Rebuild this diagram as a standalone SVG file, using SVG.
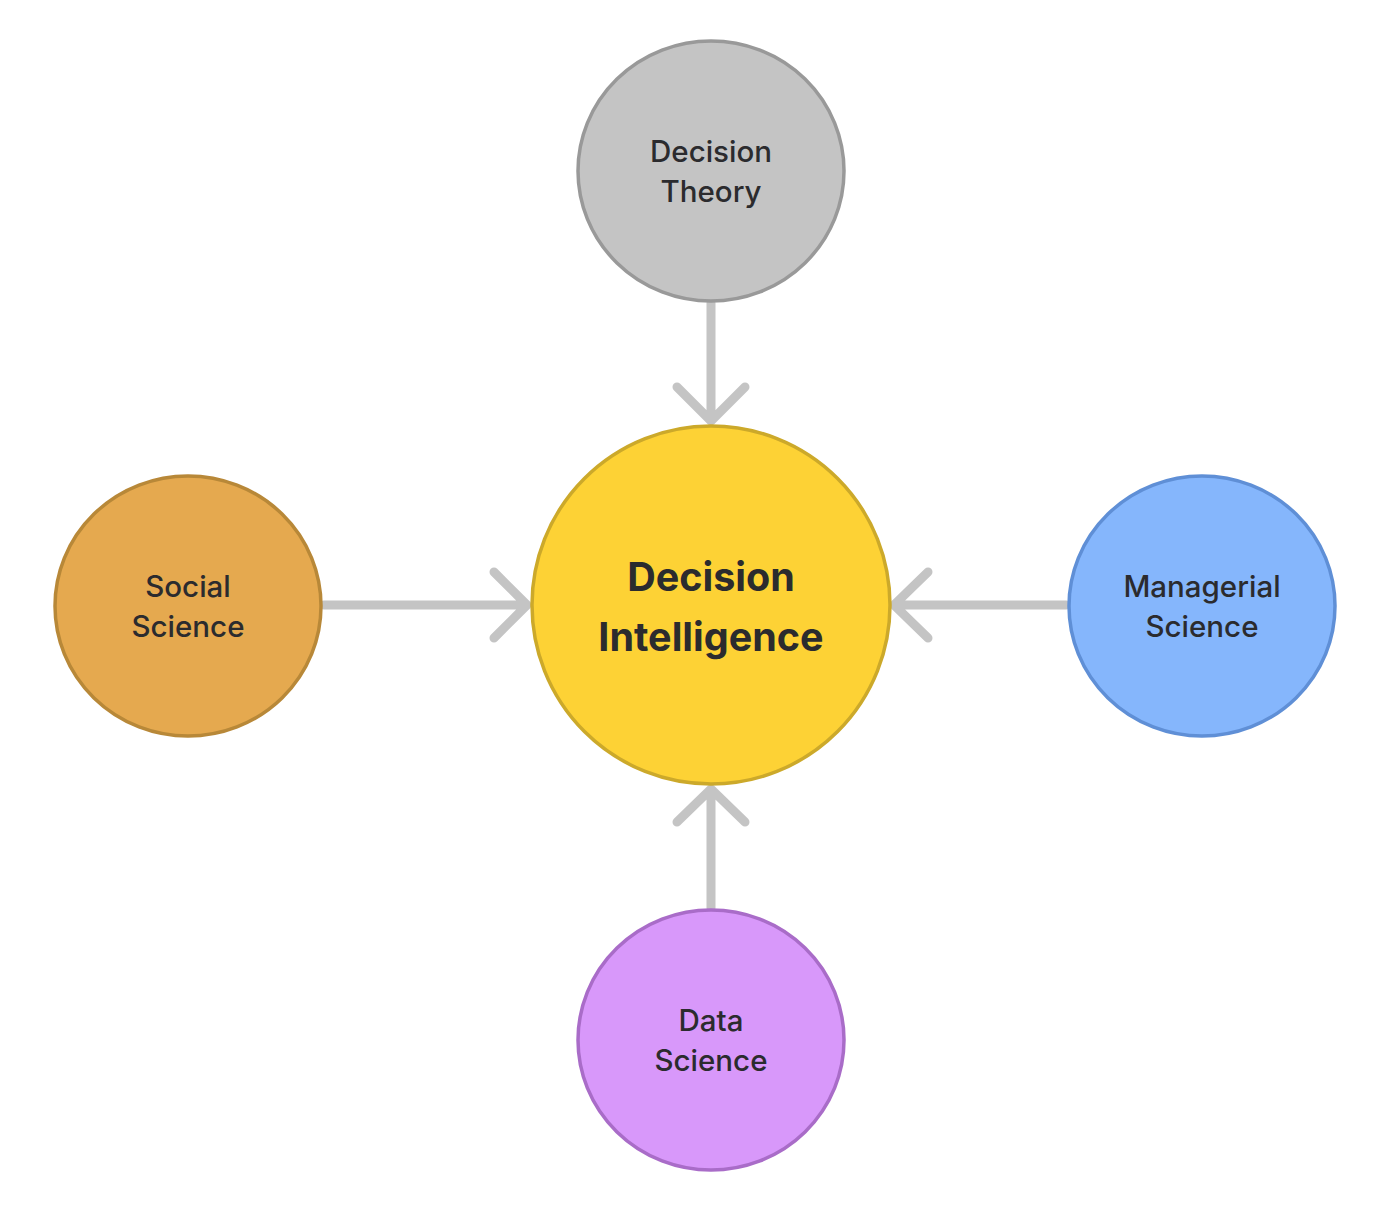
<svg xmlns="http://www.w3.org/2000/svg" width="1400" height="1219" viewBox="0 0 1400 1219">
<style>
.lbl{font-family:Inter,"Noto Sans","DejaVu Sans",sans-serif;font-size:29.5px;font-weight:500;fill:#2b2b2e;text-anchor:middle}
.big{font-family:Inter,"Noto Sans","DejaVu Sans",sans-serif;font-size:39.5px;font-weight:700;fill:#2b2b2e;text-anchor:middle}
.con{stroke:#c4c4c4;stroke-width:9;fill:none;stroke-linecap:round;stroke-linejoin:round}
.node{stroke-width:3.5}
</style>
<rect width="1400" height="1219" fill="#ffffff"/>
<g id="connectors">
<path class="con" d="M711 303 V420 M677 387 L711 421 L745 387"/>
<path class="con" d="M324 605 H526 M494 572 L527 605 L494 638"/>
<path class="con" d="M1066 605 H895 M928 572 L894 605 L928 638"/>
<path class="con" d="M711 908 V790 M677 822 L711 789 L745 822"/>
</g>
<g id="decision-theory">
<ellipse class="node" cx="711" cy="171" rx="133" ry="130" fill="#c4c4c4" stroke="#999999"/>
<text class="lbl" x="711" y="162">Decision</text>
<text class="lbl" x="711" y="202">Theory</text>
</g>
<g id="social-science">
<ellipse class="node" cx="188" cy="606" rx="133" ry="130" fill="#e5a94f" stroke="#b88838"/>
<text class="lbl" x="188" y="597">Social</text>
<text class="lbl" x="188" y="637">Science</text>
</g>
<g id="managerial-science">
<ellipse class="node" cx="1202" cy="606" rx="133" ry="130" fill="#85b6fc" stroke="#5f8fd6"/>
<text class="lbl" x="1202" y="597">Managerial</text>
<text class="lbl" x="1202" y="637">Science</text>
</g>
<g id="data-science">
<ellipse class="node" cx="711" cy="1040" rx="133" ry="130" fill="#d898fa" stroke="#a96cc8"/>
<text class="lbl" x="711" y="1031">Data</text>
<text class="lbl" x="711" y="1071">Science</text>
</g>
<g id="decision-intelligence">
<ellipse class="node" cx="711" cy="605" rx="179" ry="179" fill="#fdd235" stroke="#cca92a"/>
<text class="big" x="711" y="591">Decision</text>
<text class="big" x="711" y="651">Intelligence</text>
</g>
</svg>
